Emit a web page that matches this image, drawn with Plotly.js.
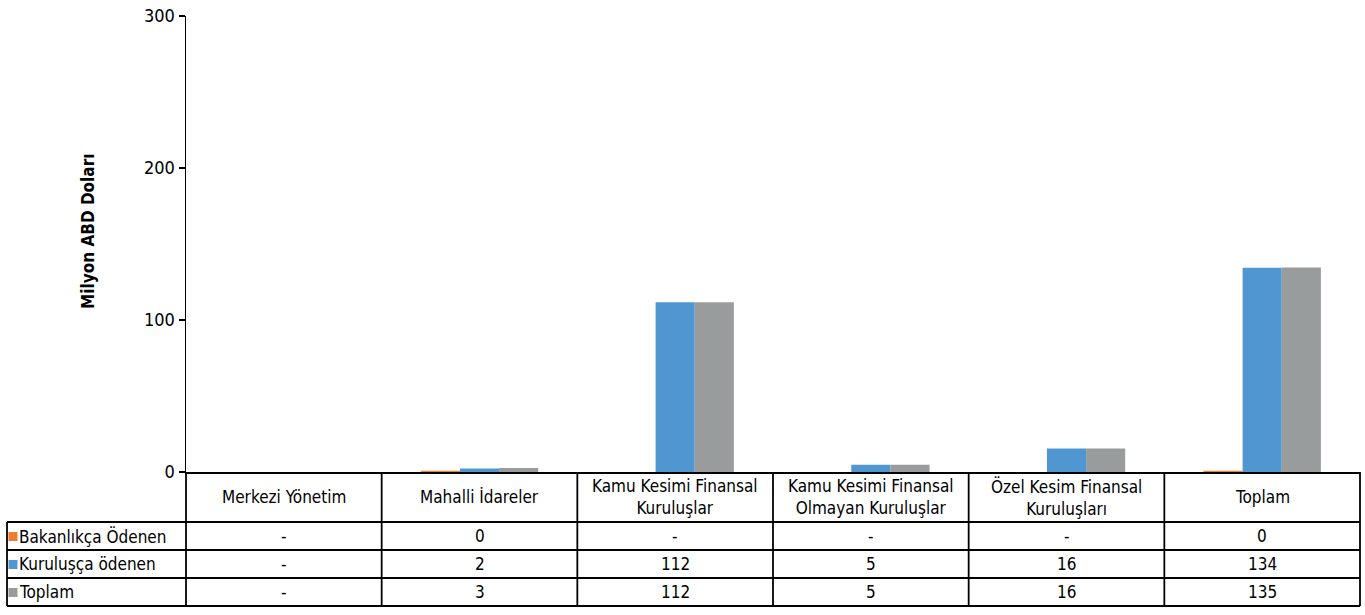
<!DOCTYPE html>
<html>
<head>
<meta charset="utf-8">
<script src="https://cdn.plot.ly/plotly-3.0.1.min.js"></script>
<style>
  html, body { margin: 0; padding: 0; background: #fff; }
  #plot { width: 1365px; height: 615px; }
</style>
</head>
<body>
<div id="plot"></div>
<script>
// categories (header row of the data table)
const categories = ['Merkezi Yönetim', 'Mahalli İdareler', 'Kamu Kesimi Finansal<br>Kuruluşlar',
  'Kamu Kesimi Finansal<br>Olmayan Kuruluşlar', 'Özel Kesim Finansal<br>Kuruluşları', 'Toplam'];

// bar heights (milyon ABD doları)
const bakanlikca = [0, 0.8, 0, 0, 0, 0.8];
const kuruluşca = [0, 2.3, 111.6, 4.8, 15.4, 134.3];
const toplam = [0, 2.7, 111.6, 4.8, 15.4, 134.5];

// table cell texts
const bakanlikcaText = ['-', '0', '-', '-', '-', '0'];
const kuruluscaText = ['-', '2', '112', '5', '16', '134'];
const toplamText = ['-', '3', '112', '5', '16', '135'];

const seriesNames = ['Bakanlıkça Ödenen', 'Kuruluşça ödenen', 'Toplam'];
const colors = ['#EE7D31', '#5097D1', '#999C9D'];

const FONT = '"DejaVu Sans Condensed", "Liberation Sans Narrow", sans-serif';

// geometry of the plot area and table (pixels)
const W = 1365, H = 615;
const plotL = 186, plotR = 1360, plotT = 16, plotB = 472;
const headerH = 50, rowH = 28, tableLeft = 7;

const px = x => (x - plotL) / (plotR - plotL);
const py = y => (plotB - y) / (plotB - plotT);
const colW = (plotR - plotL) / categories.length;

const traces = [bakanlikca, kuruluşca, toplam].map((vals, i) => ({
  type: 'bar',
  x: categories.map((c, j) => j),
  y: vals,
  name: seriesNames[i],
  marker: { color: colors[i] },
  hoverinfo: 'y'
}));

const shapes = [];
const annotations = [];
const line = (x0, y0, x1, y1) => shapes.push({
  type: 'line', xref: 'paper', yref: 'paper',
  x0: px(x0), y0: py(y0), x1: px(x1), y1: py(y1),
  line: { color: '#000', width: 1.8 }
});

const tableBottom = plotB + headerH + rowH * 3;
for (let i = 0; i <= categories.length; i++) {
  const x = plotL + i * colW;
  line(x, plotB, x, tableBottom);
}
for (let r = 0; r <= 3; r++) {
  const y = plotB + headerH + r * rowH;
  line(tableLeft, y, plotR, y);
}
line(tableLeft, plotB + headerH, tableLeft, tableBottom);

const cellFont = { family: FONT, size: 17, color: '#000' };

// header texts
categories.forEach((c, i) => {
  const twoLine = c.includes('<br>');
  annotations.push({
    xref: 'paper', yref: 'paper',
    x: px(plotL + (i + 0.5) * colW), xanchor: 'center',
    y: py(twoLine ? plotB + 2 : plotB + headerH / 2),
    yanchor: twoLine ? 'top' : 'middle',
    text: c, showarrow: false, font: cellFont
  });
});

// rows
[bakanlikcaText, kuruluscaText, toplamText].forEach((row, r) => {
  const yc = plotB + headerH + (r + 0.5) * rowH;
  shapes.push({
    type: 'rect', xref: 'paper', yref: 'paper',
    x0: px(tableLeft + 1.5), x1: px(tableLeft + 10.5),
    y0: py(yc - 4), y1: py(yc + 5),
    line: { width: 0 }, fillcolor: colors[r]
  });
  annotations.push({
    xref: 'paper', yref: 'paper',
    x: px(tableLeft + 10), y: py(yc), xanchor: 'left', yanchor: 'middle',
    text: seriesNames[r], showarrow: false, font: cellFont
  });
  row.forEach((t, i) => {
    annotations.push({
      xref: 'paper', yref: 'paper',
      x: px(plotL + (i + 0.5) * colW), xanchor: 'center',
      y: py(yc), yanchor: 'middle',
      text: t, showarrow: false, font: cellFont
    });
  });
});

// y axis title, placed like the original (centred on the chart, not the plot)
annotations.push({
  xref: 'paper', yref: 'paper',
  x: px(88), y: py(232), xanchor: 'center', yanchor: 'middle',
  textangle: -90, showarrow: false,
  text: '<b>Milyon ABD Doları</b>',
  font: { family: FONT, size: 17, color: '#000' }
});

const layout = {
  width: W, height: H,
  margin: { l: plotL, r: W - plotR, t: plotT, b: H - plotB, pad: 0 },
  paper_bgcolor: '#fff', plot_bgcolor: '#fff',
  showlegend: false,
  barmode: 'group', bargap: 0.4, bargroupgap: 0,
  font: { family: FONT, size: 17, color: '#000' },
  xaxis: {
    range: [-0.5, categories.length - 0.5],
    showticklabels: false, ticks: '', showgrid: false, zeroline: false,
    showline: true, linecolor: '#000', linewidth: 1.8, fixedrange: true
  },
  yaxis: {
    range: [0, 300], tickvals: [0, 100, 200, 300],
    ticks: 'outside', ticklen: 6, tickcolor: '#000', tickwidth: 1.5,
    showgrid: false, zeroline: false,
    showline: true, linecolor: '#000', linewidth: 1.5,
    tickfont: { family: FONT, size: 18, color: '#000' },
    fixedrange: true
  },
  shapes: shapes,
  annotations: annotations
};

Plotly.newPlot('plot', traces, layout, { displayModeBar: false, staticPlot: true });
</script>
</body>
</html>
